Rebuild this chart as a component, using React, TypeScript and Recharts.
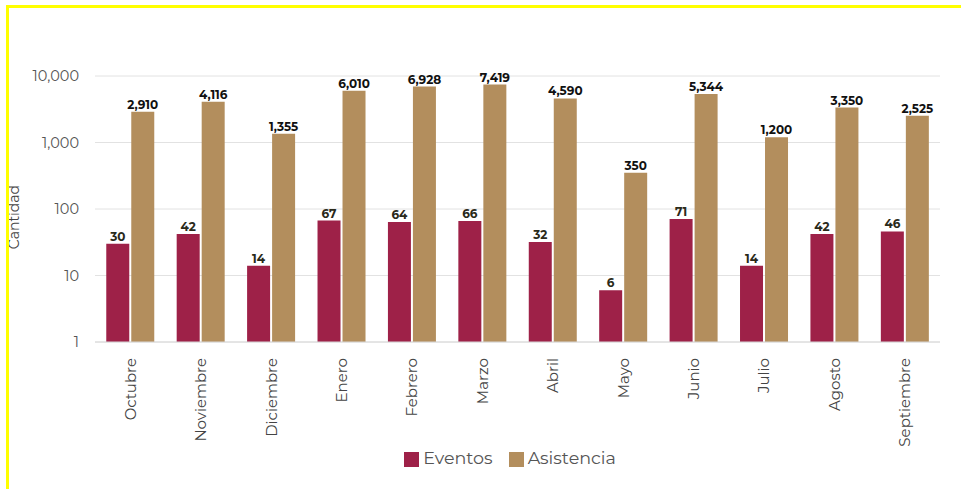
import { BarChart, Bar, XAxis, YAxis, CartesianGrid, Legend, LabelList } from "recharts";

const months = ["Octubre", "Noviembre", "Diciembre", "Enero", "Febrero", "Marzo", "Abril", "Mayo", "Junio", "Julio", "Agosto", "Septiembre"];
const eventos = [30, 42, 14, 67, 64, 66, 32, 6, 71, 14, 42, 46];
const asistencia = [2910, 4116, 1355, 6010, 6928, 7419, 4590, 350, 5344, 1200, 3350, 2525];
const yTicks = [1, 10, 100, 1000, 10000];
const seriesOrder = ["Eventos", "Asistencia"];

const data = months.map((m, i) => ({ mes: m, Eventos: eventos[i], Asistencia: asistencia[i] }));

const FONT = "Montserrat, 'Noto Sans', sans-serif";
const fmt = (v: any) => Number(v).toLocaleString("en-US");

// etiquetas del eje X giradas
const MonthTick = (props: any) => {
  const { x, y, payload } = props;
  return (
    <text
      x={x}
      y={y + 8}
      transform={`rotate(-90, ${x}, ${y + 8})`}
      textAnchor="end"
      dominantBaseline="central"
      fill="#444"
      fontSize={15}
      fontFamily={FONT}
    >
      {payload.value}
    </text>
  );
};

export default function App() {
  return (
    <div style={{ position: "fixed", left: 0, top: 0, width: 961, height: 489, background: "#fff" }}>
      <div style={{ position: "absolute", left: 0, top: 0 }}>
        <BarChart
          width={961}
          height={489}
          data={data}
          margin={{ top: 76, right: 21, left: 0, bottom: 21 }}
          barCategoryGap="16%"
          barGap={2}
        >
          <CartesianGrid vertical={false} stroke="#e2e2e2" />
          <XAxis
            dataKey="mes"
            tick={<MonthTick />}
            tickLine={false}
            axisLine={{ stroke: "#d8d8d8" }}
            interval={0}
            height={105}
          />
          <YAxis
            scale="log"
            domain={[1, 10000]}
            ticks={yTicks}
            allowDataOverflow
            width={95}
            tickFormatter={fmt}
            tick={{ fill: "#555", fontSize: 14.5, fontFamily: FONT }}
            tickLine={false}
            axisLine={false}
            tickMargin={10}
          />
          <Legend
            verticalAlign="bottom"
            iconType="square"
            iconSize={15}
            itemSorter={(item: any) => seriesOrder.indexOf(item.value)}
            wrapperStyle={{ fontFamily: FONT, fontSize: 17.5, paddingLeft: 48 }}
            formatter={(v: any) => <span style={{ color: "#555", marginRight: 6 }}>{v}</span>}
          />
          <Bar dataKey="Eventos" fill="#9e2148" isAnimationActive={false}>
            <LabelList dataKey="Eventos" position="top" offset={3} fill="#2a2a1a" fontSize={12} fontWeight={700} fontFamily={FONT} formatter={fmt} />
          </Bar>
          <Bar dataKey="Asistencia" fill="#b38e5d" isAnimationActive={false}>
            <LabelList dataKey="Asistencia" position="top" offset={3} fill="#111" fontSize={12} fontWeight={700} fontFamily={FONT} formatter={fmt} />
          </Bar>
        </BarChart>
      </div>
      <div
        style={{
          position: "absolute",
          left: 14,
          top: 217,
          transform: "translate(-50%, -50%) rotate(-90deg)",
          fontFamily: FONT,
          fontSize: 14,
          color: "#444",
          whiteSpace: "nowrap",
        }}
      >
        Cantidad
      </div>
      <div style={{ position: "absolute", left: 7, top: 5, width: 954, height: 3, background: "#ffff00" }} />
      <div style={{ position: "absolute", left: 6, top: 5, width: 3, height: 484, background: "#ffff00" }} />
    </div>
  );
}
